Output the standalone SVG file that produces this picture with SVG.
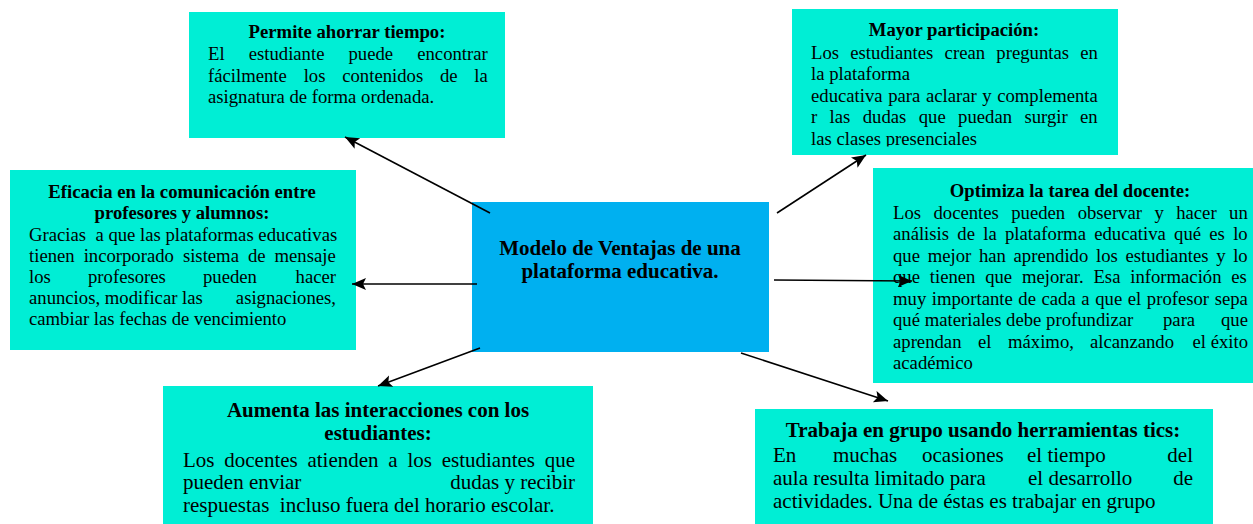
<svg xmlns="http://www.w3.org/2000/svg" width="1253" height="524" viewBox="0 0 1253 524">
<style>
.box{fill:#00EED5;}
.center{fill:#00B0F0;}
text{font-family:"Liberation Serif","Times New Roman",serif;fill:#000;}
.t{font-weight:bold;font-size:18.7px;text-anchor:middle;}
.b{font-size:18.7px;}
.T{font-weight:bold;font-size:21px;text-anchor:middle;}
.B{font-size:21px;}
.e{text-anchor:end;}
.conn line{stroke:#000;stroke-width:1.6;fill:none;marker-end:url(#ah);}
</style>
<defs>
<marker id="ah" markerUnits="userSpaceOnUse" markerWidth="16" markerHeight="14" refX="14" refY="6" orient="auto">
<path d="M0,0 L14,6 L0,12 L3,6 Z" fill="#000"/>
</marker>
<clipPath id="clipTR"><rect x="792" y="9" width="326" height="137.5"/></clipPath>
</defs>
<rect width="1253" height="524" fill="#fff"/>

<g id="node-center">
<rect class="center" x="472" y="202" width="297" height="150"/>
<text class="T" x="620" y="255">Modelo de Ventajas de una</text>
<text class="T" x="620" y="278">plataforma educativa.</text>
</g>

<g id="node-tiempo">
<rect class="box" x="189" y="12" width="316" height="126"/>
<text class="t" x="347" y="38">Permite ahorrar tiempo:</text>
<text class="b" x="208" y="60" word-spacing="19.4">El estudiante puede encontrar</text>
<text class="b" x="208" y="81.5" word-spacing="12.1">fácilmente los contenidos de la</text>
<text class="b" x="208" y="103">asignatura de forma ordenada.</text>
</g>

<g id="node-participacion">
<rect class="box" x="792" y="9" width="326" height="146"/>
<text class="t" x="954" y="36">Mayor participación:</text>
<g clip-path="url(#clipTR)">
<text class="b" x="811" y="58.5" word-spacing="6.6">Los estudiantes crean preguntas en</text>
<text class="b" x="811" y="80">la plataforma</text>
<text class="b" x="811" y="101.5" word-spacing="0.9">educativa para aclarar y complementa</text>
<text class="b" x="811" y="123" word-spacing="7.7">r las dudas que puedan surgir en</text>
<text class="b" x="811" y="144.5">las clases presenciales</text>
</g>
</g>

<g id="node-eficacia">
<rect class="box" x="10" y="170" width="346" height="180"/>
<text class="t" x="182" y="197.5">Eficacia en la comunicación entre</text>
<text class="t" x="182" y="219">profesores y alumnos:</text>
<text class="b" x="29" y="241" xml:space="preserve" word-spacing="0">Gracias  a que las plataformas educativas</text>
<text class="b" x="29" y="262" word-spacing="4.3">tienen incorporado sistema de mensaje</text>
<text class="b" x="29" y="283">los</text>
<text class="b" x="88" y="283">profesores</text>
<text class="b" x="203" y="283">pueden</text>
<text class="b e" x="336" y="283">hacer</text>
<text class="b" x="29" y="304">anuncios, modificar las</text>
<text class="b e" x="336" y="304">asignaciones,</text>
<text class="b" x="29" y="325">cambiar las fechas de vencimiento</text>
</g>

<g id="node-optimiza">
<rect class="box" x="873" y="168" width="380" height="215"/>
<text class="t" x="1070" y="197">Optimiza la tarea del docente:</text>
<text class="b" x="893" y="218.5" word-spacing="7.75">Los docentes pueden observar y hacer un</text>
<text class="b" x="893" y="240" word-spacing="3.6">análisis de la plataforma educativa qué es lo</text>
<text class="b" x="893" y="261.5" word-spacing="3">que mejor han aprendido los estudiantes y lo</text>
<text class="b" x="893" y="283" word-spacing="5.1">que tienen que mejorar. Esa información es</text>
<text class="b" x="893" y="304.5" word-spacing="0.9">muy importante de cada a que el profesor sepa</text>
<text class="b" x="893" y="326">qué materiales debe profundizar</text>
<text class="b" x="1163" y="326">para</text>
<text class="b e" x="1248" y="326">que</text>
<text class="b" x="893" y="347.5">aprendan</text>
<text class="b" x="978" y="347.5">el</text>
<text class="b" x="1008" y="347.5">máximo,</text>
<text class="b" x="1090" y="347.5">alcanzando</text>
<text class="b e" x="1248" y="347.5">el éxito</text>
<text class="b" x="893" y="369">académico</text>
</g>

<g id="node-interacciones">
<rect class="box" x="163" y="386" width="430" height="138"/>
<text class="T" x="378" y="417">Aumenta las interacciones con los</text>
<text class="T" x="378" y="440">estudiantes:</text>
<text class="B" x="183" y="467" word-spacing="4.5">Los docentes atienden a los estudiantes que</text>
<text class="B" x="183" y="489">pueden enviar</text>
<text class="B e" x="575" y="489">dudas y recibir</text>
<text class="B" x="183" y="512" xml:space="preserve">respuestas  incluso fuera del horario escolar.</text>
</g>

<g id="node-grupo">
<rect class="box" x="755" y="409" width="458" height="115"/>
<text class="T" x="983" y="437">Trabaja en grupo usando herramientas tics:</text>
<text class="B" x="773" y="462">En</text>
<text class="B" x="833" y="462">muchas</text>
<text class="B" x="922" y="462">ocasiones</text>
<text class="B" x="1027" y="462">el tiempo</text>
<text class="B e" x="1193" y="462">del</text>
<text class="B" x="773" y="485">aula resulta limitado para</text>
<text class="B" x="1028" y="485">el desarrollo</text>
<text class="B e" x="1193" y="485">de</text>
<text class="B" x="773" y="508">actividades. Una de éstas es trabajar en grupo</text>
</g>

<g id="connectors" class="conn">
<line x1="490" y1="213" x2="345" y2="137"/>
<line x1="777" y1="213" x2="866" y2="155"/>
<line x1="477" y1="284" x2="352" y2="284"/>
<line x1="774" y1="280" x2="912" y2="281"/>
<line x1="480" y1="348" x2="378" y2="386"/>
<line x1="741" y1="353" x2="888" y2="401"/>
</g>
</svg>
